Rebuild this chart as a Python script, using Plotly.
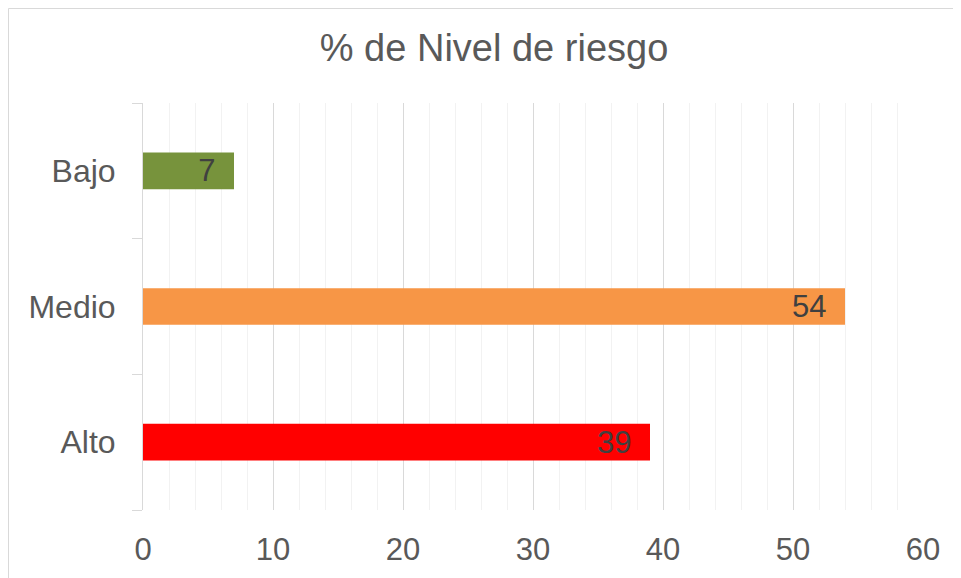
import plotly.graph_objects as go

categories = ["Bajo", "Medio", "Alto"]
values = [7, 54, 39]
colors = ["#77933C", "#F79646", "#FF0000"]
x_ticks = [0, 10, 20, 30, 40, 50, 60]

# the page body has an 8px margin, so the figure is sized / placed to compensate
OFF = 8
W, H = 961 - OFF, 578 - OFF
ml, mr, mt, mb = 143 - OFF, 38, 103 - OFF, 68
pw, ph = W - ml - mr, H - mt - mb

fig = go.Figure(go.Bar(
    y=categories, x=values, orientation="h",
    marker=dict(color=colors, line=dict(width=0)),
    text=[str(v) + "\u2002" for v in values],
    textposition="inside", insidetextanchor="end", textangle=0,
    constraintext="none",
    textfont=dict(family="Liberation Sans, Arial", size=31, color="#404040"),
    width=0.27,
    cliponaxis=False,
))

fig.update_layout(
    width=W, height=H,
    margin=dict(l=ml, r=mr, t=mt, b=mb, pad=0, autoexpand=False),
    paper_bgcolor="white", plot_bgcolor="white",
    showlegend=False,
    title=dict(text="% de Nivel de riesgo", x=0.51, xanchor="center",
               y=1 - (48 - OFF) / H, yanchor="middle",
               font=dict(family="Liberation Sans, Arial", size=38, color="#595959")),
    xaxis=dict(range=[0, 60], tickvals=x_ticks, ticktext=[str(t) for t in x_ticks],
               showgrid=True, gridcolor="#D9D9D9", gridwidth=1,
               minor=dict(dtick=2, showgrid=True, gridcolor="#F2F2F2", gridwidth=1),
               zeroline=False, showline=False, ticks="",
               automargin=False, ticklabelstandoff=18,
               tickfont=dict(family="Liberation Sans, Arial", size=31, color="#595959"),
               fixedrange=True),
    yaxis=dict(categoryorder="array", categoryarray=categories[::-1],
               range=[-0.5, 2.5], automargin=False,
               tickson="boundaries", ticks="outside", ticklen=10, tickcolor="#D9D9D9",
               showline=True, linecolor="#D9D9D9", linewidth=1,
               showgrid=False, zeroline=False, ticklabelstandoff=20,
               tickfont=dict(family="Liberation Sans, Arial", size=32, color="#595959")),
)

# chart area border (left and top edges visible)
fig.add_shape(type="rect", xref="paper", yref="paper",
              x0=(0.5 - ml) / pw, x1=(W + 10 - ml) / pw,
              y0=-(H + 10 - mt - ph) / ph, y1=1 + (mt - 0.5) / ph,
              line=dict(color="#D9D9D9", width=1), layer="below")

fig.write_html("out.html")
